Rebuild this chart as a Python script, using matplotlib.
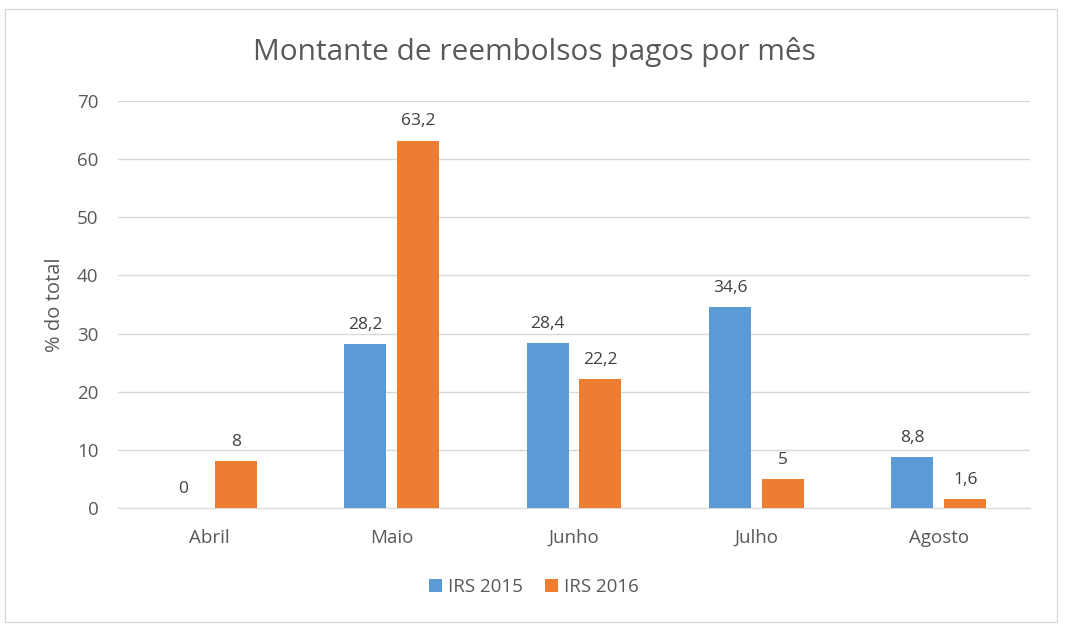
import matplotlib.pyplot as plt
import numpy as np
from matplotlib.patches import Rectangle

meses = ['Abril', 'Maio', 'Junho', 'Julho', 'Agosto']
irs_2015 = [0, 28.2, 28.4, 34.6, 8.8]
irs_2016 = [8, 63.2, 22.2, 5, 1.6]
rotulos_2015 = ['0', '28,2', '28,4', '34,6', '8,8']
rotulos_2016 = ['8', '63,2', '22,2', '5', '1,6']

azul = '#5B9BD5'
laranja = '#ED7D31'
cinza = '#595959'

plt.rcParams['font.family'] = ['Open Sans', 'DejaVu Sans']

fig = plt.figure(figsize=(10.68, 6.32), dpi=100)
fig.patches.append(Rectangle((5 / 1068, 10 / 632), 1052 / 1068, 613 / 632,
                             transform=fig.transFigure, fill=False,
                             edgecolor='#D9D9D9', linewidth=1))
ax = fig.add_axes([118 / 1068, 124 / 632, 912 / 1068, 407 / 632])

x = np.arange(len(meses))
largura = 0.23
desl = 0.145
b1 = ax.bar(x - desl, irs_2015, largura, color=azul, label='IRS 2015', zorder=3)
b2 = ax.bar(x + desl, irs_2016, largura, color=laranja, label='IRS 2016', zorder=3)
ax.bar_label(b1, labels=rotulos_2015, padding=8, fontsize=12.5, color='#404040')
ax.bar_label(b2, labels=rotulos_2016, padding=8, fontsize=12.5, color='#404040')

ax.set_xlim(-0.5, len(meses) - 0.5)
ax.set_ylim(0, 70)
ax.set_yticks(range(0, 71, 10))
ax.set_xticks(x)
ax.set_xticklabels(meses)
ax.tick_params(axis='both', length=0, labelsize=13.5, labelcolor=cinza)
ax.tick_params(axis='x', pad=15)
ax.tick_params(axis='y', pad=14)
ax.grid(axis='y', color='#D9D9D9', linewidth=1, zorder=0)
for s in ['top', 'right', 'left']:
    ax.spines[s].set_visible(False)
ax.spines['bottom'].set_color('#D9D9D9')

ax.set_ylabel('% do total', fontsize=14.5, color=cinza)
ax.yaxis.set_label_coords((65 - 118) / 912, 0.5)
fig.text(0.5, 1 - 52 / 632, 'Montante de reembolsos pagos por mês',
         ha='center', va='center', fontsize=21.5, color=cinza)
fig.legend(handles=[b1, b2], loc='center', bbox_to_anchor=(0.5, 1 - 587 / 632),
           ncol=2, frameon=False, fontsize=13.5, labelcolor=cinza,
           handlelength=0.7, handleheight=0.7, handletextpad=0.3, columnspacing=1.2)

plt.savefig('out.png', dpi=100)
